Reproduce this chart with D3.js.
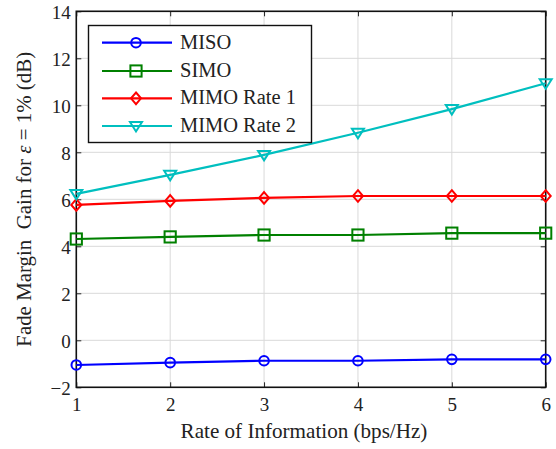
<!DOCTYPE html>
<html>
<head>
<meta charset="utf-8">
<script src="https://cdn.jsdelivr.net/npm/d3@7/dist/d3.min.js"></script>
<style>
  html, body { margin: 0; padding: 0; background: #fff; }
  svg text { font-family: "Liberation Serif", "DejaVu Serif", serif; fill: #222; }
</style>
</head>
<body>
<svg id="chart" width="556" height="449"></svg>
<script>
// Rate of information (bps/Hz)
const rates = [1, 2, 3, 4, 5, 6];
// Fade margin gain (dB) per scheme
const miso     = [-1.05, -0.95, -0.87, -0.87, -0.81, -0.81];
const simo     = [4.31, 4.40, 4.48, 4.48, 4.56, 4.56];
const mimoR1   = [5.76, 5.93, 6.06, 6.14, 6.14, 6.14];
const mimoR2   = [6.23, 7.04, 7.89, 8.83, 9.84, 10.94];
const seriesNames = ["MISO", "SIMO", "MIMO Rate 1", "MIMO Rate 2"];
const xTicks = [1, 2, 3, 4, 5, 6];
const yTicks = [-2, 0, 2, 4, 6, 8, 10, 12, 14];

const series = [
  { name: seriesNames[0], values: miso,   color: "#0000ff", marker: "circle" },
  { name: seriesNames[1], values: simo,   color: "#008000", marker: "square" },
  { name: seriesNames[2], values: mimoR1, color: "#ff0000", marker: "diamond" },
  { name: seriesNames[3], values: mimoR2, color: "#00bfbf", marker: "triangle" }
];

const svg = d3.select("#chart");
const W = 556, H = 449;
const m = { left: 76.3, right: W - 545.7, top: 11.3, bottom: H - 387.3 };
const x = d3.scaleLinear().domain([1, 6]).range([m.left, W - m.right]);
const y = d3.scaleLinear().domain([-2, 14]).range([H - m.bottom, m.top]);
const fontFamily = "Liberation Serif, serif";

// scale a text element's font size so its rendered length equals `target` px
function fitText(sel, target, base) {
  sel.attr("font-size", base);
  const len = sel.node().getComputedTextLength();
  const fs = len > 0 ? base * target / len : base;
  sel.attr("font-size", fs);
  return fs;
}

// grid
const grid = svg.append("g").attr("stroke", "#d9d9d9").attr("stroke-width", 1);
xTicks.forEach(t => grid.append("line")
  .attr("x1", x(t)).attr("x2", x(t)).attr("y1", y(-2)).attr("y2", y(14)));
yTicks.forEach(t => grid.append("line")
  .attr("x1", x(1)).attr("x2", x(6)).attr("y1", y(t)).attr("y2", y(t)));

// axes with inward ticks on all four sides
const tickLen = 5;
const axBottom = svg.append("g").attr("transform", `translate(0,${y(-2)})`)
  .call(d3.axisBottom(x).tickValues(xTicks).tickSize(-tickLen).tickFormat(d3.format("d")));
const axTop = svg.append("g").attr("transform", `translate(0,${y(14)})`)
  .call(d3.axisTop(x).tickValues(xTicks).tickSize(-tickLen).tickFormat(""));
const axLeft = svg.append("g").attr("transform", `translate(${x(1)},0)`)
  .call(d3.axisLeft(y).tickValues(yTicks).tickSize(-tickLen).tickPadding(5.5)
    .tickFormat(d => d < 0 ? "\u2212" + Math.abs(d) : d));
const axRight = svg.append("g").attr("transform", `translate(${x(6)},0)`)
  .call(d3.axisRight(y).tickValues(yTicks).tickSize(-tickLen).tickFormat(""));
[axBottom, axTop, axLeft, axRight].forEach(a => {
  a.attr("font-family", fontFamily);
  a.select(".domain").remove();
  a.selectAll(".tick line").attr("stroke", "#222").attr("stroke-width", 1);
  a.selectAll("text").attr("fill", "#222");
});
// tick labels sized so a two-digit label is about 19px wide
const tickFs = fitText(axLeft.selectAll(".tick text").filter(d => d === 14), 19, 18);
axBottom.selectAll(".tick text").attr("font-size", tickFs).attr("y", 24).attr("dy", null);
axLeft.selectAll(".tick text").attr("font-size", tickFs).attr("dy", "0.36em");

// frame
svg.append("rect").attr("x", x(1)).attr("y", y(14))
  .attr("width", x(6) - x(1)).attr("height", y(-2) - y(14))
  .attr("fill", "none").attr("stroke", "#111").attr("stroke-width", 1.6);

// marker drawing
function drawMarker(g, type, cx, cy, color) {
  const sw = 2;
  if (type === "circle") {
    g.append("circle").attr("cx", cx).attr("cy", cy).attr("r", 4.8)
      .attr("fill", "none").attr("stroke", color).attr("stroke-width", sw);
  } else if (type === "square") {
    const s = 5.6;
    g.append("rect").attr("x", cx - s).attr("y", cy - s).attr("width", 2 * s).attr("height", 2 * s)
      .attr("fill", "none").attr("stroke", color).attr("stroke-width", sw);
  } else if (type === "diamond") {
    const w = 5, h = 5.8;
    g.append("path").attr("d", `M${cx},${cy - h}L${cx + w},${cy}L${cx},${cy + h}L${cx - w},${cy}Z`)
      .attr("fill", "none").attr("stroke", color).attr("stroke-width", sw);
  } else {
    g.append("path").attr("d", `M${cx - 6},${cy - 4}L${cx + 6},${cy - 4}L${cx},${cy + 5.5}Z`)
      .attr("fill", "none").attr("stroke", color).attr("stroke-width", sw);
  }
}

const line = d3.line().x((d, i) => x(rates[i])).y(d => y(d));
const plot = svg.append("g");
series.forEach(s => {
  plot.append("path").datum(s.values).attr("d", line)
    .attr("fill", "none").attr("stroke", s.color).attr("stroke-width", 2.2);
  s.values.forEach((v, i) => drawMarker(plot, s.marker, x(rates[i]), y(v), s.color));
});

// legend
const lg = svg.append("g");
lg.append("rect").attr("x", 88.5).attr("y", 25.5).attr("width", 223).attr("height", 117)
  .attr("fill", "#fff").attr("stroke", "#111").attr("stroke-width", 1.4);
const rowY = [42.7, 71, 98.3, 126];
const legendTexts = [];
series.forEach((s, i) => {
  lg.append("line").attr("x1", 102).attr("x2", 172).attr("y1", rowY[i]).attr("y2", rowY[i])
    .attr("stroke", s.color).attr("stroke-width", 2.2);
  drawMarker(lg, s.marker, 136, rowY[i], s.color);
  legendTexts.push(lg.append("text").attr("x", 180).attr("y", rowY[i] + 6).text(s.name));
});
// longest entry spans about 116px
const legendFs = fitText(legendTexts[3], 116, 18);
legendTexts.forEach(t => t.attr("font-size", legendFs));

// axis titles
const xl = svg.append("text").attr("x", (x(1) + x(6)) / 2 - 7).attr("y", 438).attr("text-anchor", "middle")
  .text("Rate of Information (bps/Hz)");
fitText(xl, 247, 18);
const yl = svg.append("text").attr("transform", `translate(31,${(y(-2) + y(14)) / 2}) rotate(-90)`)
  .attr("text-anchor", "middle");
yl.append("tspan").text("Fade Margin\u00a0\u00a0Gain for ");
yl.append("tspan").attr("font-style", "italic").text("\u03b5");
yl.append("tspan").text(" = 1% (dB)");
fitText(yl, 295, 18);
</script>
</body>
</html>
